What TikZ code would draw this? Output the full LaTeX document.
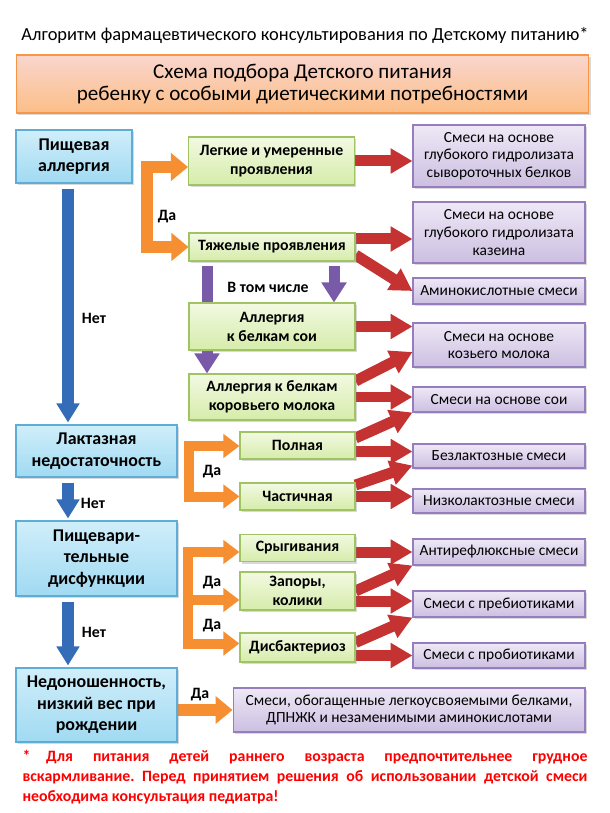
\documentclass[tikz,border=0pt]{standalone}
\usepackage{fontspec}
\setmainfont{Carlito}
\usepackage{xcolor}
\usetikzlibrary{arrows.meta, shadows, backgrounds}
\frenchspacing

\definecolor{blueline}{RGB}{93,173,214}
\definecolor{bluetop}{RGB}{208,238,250}
\definecolor{bluebot}{RGB}{160,218,242}
\definecolor{greenline}{RGB}{160,196,100}
\definecolor{greentop}{RGB}{242,249,226}
\definecolor{greenbot}{RGB}{214,236,170}
\definecolor{violetline}{RGB}{150,125,190}
\definecolor{violettop}{RGB}{238,232,246}
\definecolor{violetbot}{RGB}{204,191,225}
\definecolor{hdrtop}{RGB}{250,214,206}
\definecolor{hdrbot}{RGB}{251,190,135}
\definecolor{hdrline}{RGB}{247,150,70}
\definecolor{arrred}{RGB}{196,50,50}
\definecolor{arrorange}{RGB}{246,142,50}
\definecolor{arrblue}{RGB}{52,108,184}
\definecolor{arrviolet}{RGB}{120,90,168}
\definecolor{notered}{RGB}{255,0,0}

\tikzset{>=latex,
  box/.style={rectangle, align=center, inner sep=0pt, line width=0.6pt,
    drop shadow={shadow xshift=0.04cm, shadow yshift=-0.04cm, opacity=0.3}},
  hdrbox/.style={box, draw=hdrline, top color=hdrtop, bottom color=hdrbot,
    minimum width=11.46cm, minimum height=1.16cm, font=\fontsize{12}{12.5}\selectfont},
  bluebox/.style={box, draw=blueline, top color=bluetop, bottom color=bluebot,
    minimum width=3.22cm, font=\bfseries\fontsize{10.2}{12.3}\selectfont},
  greenbox/.style={box, draw=greenline, top color=greentop, bottom color=greenbot,
    minimum width=3.32cm, font=\bfseries\fontsize{9}{10.8}\selectfont},
  short/.style={minimum width=2.3cm, minimum height=0.54cm},
  violetbox/.style={box, draw=violetline, top color=violettop, bottom color=violetbot,
    minimum width=3.44cm, font=\fontsize{8.8}{10}\selectfont},
  lbl/.style={font=\bfseries\fontsize{9}{10}\selectfont},
  redarrow/.style={draw=arrred, line width=0.22cm, -{Triangle[length=0.44cm, width=0.48cm]}},
  orangewide/.style={draw=arrorange, line width=0.24cm, line cap=rect,
    -{Triangle[length=0.34cm, width=0.54cm]}},
  orangearrow/.style={draw=arrorange, line width=0.2cm, line cap=rect,
    -{Triangle[length=0.32cm, width=0.46cm]}},
  bluearrow/.style={draw=arrblue, line width=0.24cm, shorten <=0.1cm, shorten >=0.04cm,
    -{Triangle[length=0.38cm, width=0.44cm]}},
  violetarrow/.style={draw=arrviolet, line width=0.22cm, shorten <=0.08cm,
    -{Triangle[length=0.4cm, width=0.48cm]}}
}

\begin{document}
\begin{tikzpicture}[x=0.02cm, y=-0.02cm]
\useasboundingbox (0,0) rectangle (609,813);

\node[font=\fontsize{10.5}{12}\selectfont] (title) at (305,35) {Алгоритм фармацевтического консультирования по Детскому питанию*};
\node[hdrbox] (hdr) at (302.5,84) {Схема подбора Детского питания\\ребенку с особыми диетическими потребностями};

% left column
\node[bluebox, minimum width=2.32cm, minimum height=1.06cm] (allergy) at (74,156.5) {Пищевая\\аллергия};
\node[bluebox, minimum height=1.04cm] (lactase) at (96.5,451) {Лактазная\\недостаточность};
\node[bluebox, minimum height=1.5cm] (digest) at (96.5,558.5) {Пищевари-\\тельные\\дисфункции};
\node[bluebox, minimum height=1.48cm] (preterm) at (96.5,705) {Недоношенность,\\низкий вес при\\рождении};

% middle column
\node[greenbox, minimum height=0.96cm] (mild) at (271.5,161) {Легкие и умеренные\\проявления};
\node[greenbox, minimum height=0.56cm] (severe) at (272,247) {Тяжелые проявления};
\node[greenbox, minimum height=0.94cm] (soy) at (272,326.5) {Аллергия\\к белкам сои};
\node[greenbox, minimum height=0.92cm] (cow) at (272,397) {Аллергия к белкам\\коровьего молока};
\node[greenbox, short] (full) at (297.5,445.5) {Полная};
\node[greenbox, short] (partial) at (297.5,496.5) {Частичная};
\node[greenbox, short] (reflux) at (297.5,548) {Срыгивания};
\node[greenbox, short, minimum height=0.76cm] (constip) at (297.5,591) {Запоры,\\колики};
\node[greenbox, short, minimum height=0.58cm] (dysbac) at (297.5,647.5) {Дисбактериоз};

% right column
\node[violetbox, minimum height=1.24cm] (whey) at (499,156) {Смеси на основе\\глубокого гидролизата\\сывороточных белков};
\node[violetbox, minimum height=1.22cm] (casein) at (499,232.5) {Смеси на основе\\глубокого гидролизата\\казеина};
\node[violetbox, minimum height=0.52cm] (amino) at (499,291) {Аминокислотные смеси};
\node[violetbox, minimum height=0.88cm] (goat) at (499,345) {Смеси на основе\\козьего молока};
\node[violetbox, minimum height=0.5cm] (soymix) at (499,399.5) {Смеси на основе сои};
\node[violetbox, minimum height=0.48cm] (lactfree) at (499,456) {Безлактозные смеси};
\node[violetbox, minimum height=0.48cm] (lowlact) at (499,501) {Низколактозные смеси};
\node[violetbox, minimum height=0.52cm] (antireflux) at (499,552) {Антирефлюксные смеси};
\node[violetbox, minimum height=0.52cm] (prebio) at (499,604) {Смеси с пребиотиками};
\node[violetbox, minimum height=0.5cm] (probio) at (499,655.5) {Смеси с пробиотиками};
\node[violetbox, minimum width=7.04cm, minimum height=0.88cm] (enriched) at (409,710) {Смеси, обогащенные легкоусвояемыми белками,\\ДПНЖК и незаменимыми аминокислотами};

% labels
\node[lbl] (no1) at (94,318) {Нет};
\node[lbl] (no2) at (93,503) {Нет};
\node[lbl] (no3) at (94,632) {Нет};
\node[lbl] (yes1) at (167,217) {Да};
\node[lbl] (yes2) at (212,472) {Да};
\node[lbl] (yes3) at (212,583) {Да};
\node[lbl] (yes4) at (212,626) {Да};
\node[lbl] (yes5) at (200,695) {Да};
\node[lbl] (incl) at (268,287) {В том числе};

\node[text width=11.3cm, align=justify, text=notered, font=\bfseries\fontsize{9}{11.3}\selectfont] (note) at (305,777)
  {*\quad Для питания детей раннего возраста предпочтительнее грудное\linebreak вскармливание. Перед принятием решения об использовании детской смеси\linebreak необходима консультация педиатра!};

\coordinate (nocol) at (68,0);
\coordinate (vx1) at (207,0);
\coordinate (vx2) at (334,0);
\coordinate (fork1) at (146.5,167);
\coordinate (fork2) at (189,446);
\coordinate (fork3) at (188,552);

\begin{scope}[on background layer]
\draw[bluearrow] (allergy.south -| nocol) -- (lactase.north -| nocol);
\draw[bluearrow] (lactase.south -| nocol) -- (digest.north -| nocol);
\draw[bluearrow] (digest.south -| nocol) -- (preterm.north -| nocol);

\draw[violetarrow] (severe.south -| vx1) -- (cow.north -| vx1);
\draw[violetarrow] (severe.south -| vx2) -- (soy.north -| vx2);

\draw[orangewide] (fork1) -- (fork1 -| mild.west);
\draw[orangewide] (fork1) |- (severe.west);
\draw[orangearrow] (fork2) -- (fork2 -| full.west);
\draw[orangearrow] (fork2) |- (partial.west);
\draw[orangearrow] (fork3) -- (fork3 -| reflux.west);
\draw[orangearrow] (fork3) |- ([yshift=-0.18cm]constip.west);
\draw[orangearrow] (fork3) |- ([yshift=0.08cm]dysbac.west);
\draw[orangewide] (preterm.east |- enriched.west) -- (enriched.west);

\draw[redarrow] (mild.east) -- (mild.east -| whey.west);
\draw[redarrow] ([yshift=0.16cm]severe.east) -- ([yshift=0.16cm]severe.east -| casein.west);
\draw[redarrow] ([yshift=-0.16cm]severe.east) -- (amino.west);
\draw[redarrow] (soy.east) -- (soy.east -| goat.west);
\draw[redarrow] ([yshift=0.32cm]cow.east) -- ([yshift=-0.14cm]goat.west);
\draw[redarrow] (cow.east) -- (cow.east -| soymix.west);
\draw[redarrow] ([yshift=0.15cm]full.east) -- (soymix.south west);
\draw[redarrow] ([yshift=-0.12cm]full.east) -- ([yshift=-0.12cm]full.east -| lactfree.west);
\draw[redarrow] ([yshift=0.23cm]partial.east) -- ([yshift=0.06cm]lactfree.south west);
\draw[redarrow] (partial.east) -- (partial.east -| lowlact.west);
\draw[redarrow] (reflux.east |- antireflux.west) -- (antireflux.west);
\draw[redarrow] (constip.east) -- (antireflux.south west);
\draw[redarrow] ([yshift=-0.2cm]constip.east) -- ([yshift=-0.2cm]constip.east -| prebio.west);
\draw[redarrow] ([yshift=0.1cm]dysbac.east) -- (prebio.south west);
\draw[redarrow] (dysbac.east |- probio.west) -- (probio.west);
\end{scope}
\end{tikzpicture}
\end{document}
